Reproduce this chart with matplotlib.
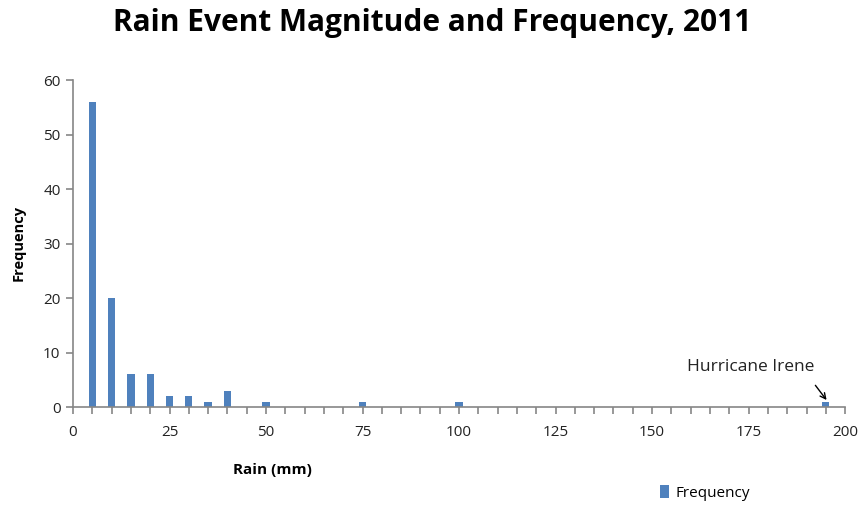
import matplotlib.pyplot as plt
from matplotlib.ticker import MultipleLocator

# Rain event bins (mm) and how many events fell in each, 2011
rain_mm = [5, 10, 15, 20, 25, 30, 35, 40, 50, 75, 100, 195]
frequency = [56, 20, 6, 6, 2, 2, 1, 3, 1, 1, 1, 1]

bar_color = '#4F81BD'
axis_color = '#868686'
font = 'Open Sans'

fig = plt.figure(figsize=(8.65, 5.07), dpi=100)
ax = fig.add_axes([0.0844, 0.197, 0.8926, 0.645])

ax.bar(rain_mm, frequency, width=1.9, color=bar_color, label='Frequency')

ax.set_xlim(0, 200)
ax.set_ylim(0, 60)
ax.xaxis.set_major_locator(MultipleLocator(25))
ax.xaxis.set_minor_locator(MultipleLocator(5))
ax.yaxis.set_major_locator(MultipleLocator(10))

for side in ['top', 'right']:
    ax.spines[side].set_visible(False)
for side in ['left', 'bottom']:
    ax.spines[side].set_color(axis_color)
    ax.spines[side].set_linewidth(1.2)

ax.tick_params(axis='both', which='both', direction='out', color=axis_color,
               width=1.2, labelsize=11, labelcolor='#222222')
ax.tick_params(axis='x', which='both', length=5, pad=8)
ax.tick_params(axis='y', which='major', length=5, pad=4)
for lbl in ax.get_xticklabels() + ax.get_yticklabels():
    lbl.set_fontfamily(font)

fig.text(0.5, 0.955, 'Rain Event Magnitude and Frequency, 2011', ha='center', va='center',
         fontsize=21.5, fontweight='bold', family=font)
fig.text(0.021, 0.52, 'Frequency', rotation=90, ha='center', va='center',
         fontsize=10.5, fontweight='bold', family=font)
fig.text(0.315, 0.072, 'Rain (mm)', ha='center', va='center',
         fontsize=11, fontweight='bold', family=font)

# label for the outlier event, with a short arrow down to its bar
ax.text(175.5, 7.3, 'Hurricane Irene', ha='center', va='center',
        fontsize=12.5, family=font, color='#222222')
ax.annotate('', xy=(195.2, 1.3), xytext=(192.3, 4.0),
            arrowprops=dict(arrowstyle='->', color='black', lw=1.0,
                            shrinkA=0, shrinkB=0))

fig.legend(loc='center', bbox_to_anchor=(0.815, 0.028), frameon=False,
           prop={'family': font, 'size': 11}, handlelength=0.6, handleheight=0.9,
           handletextpad=0.4)

fig.savefig('out.png', dpi=100)
